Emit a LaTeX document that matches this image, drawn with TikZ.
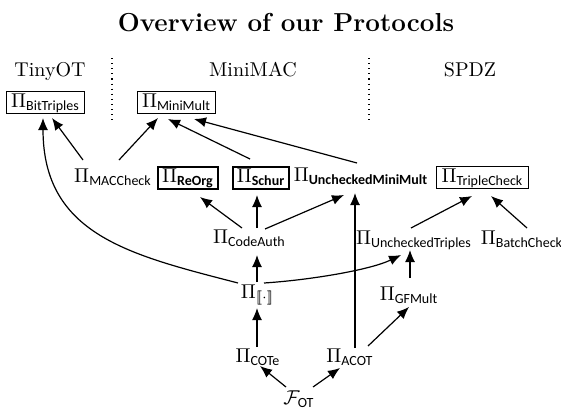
\documentclass[tikz,border=0pt]{standalone}
\usepackage{amsmath}
\usepackage{fontspec}
\setsansfont{Carlito}
\usetikzlibrary{arrows.meta,calc}
\newcommand{\Psub}[1]{$\Pi_{\text{\sffamily #1}}$}
\newcommand{\Pbold}[1]{$\Pi_{\text{\sffamily\bfseries #1}}$}
\begin{document}
\begin{tikzpicture}[x=0.5pt,y=-0.5pt,
  lbl/.style={inner sep=2pt, font=\fontsize{10}{12}\selectfont, anchor=base},
  pbox/.style={draw, line width=0.5pt, inner xsep=2.5pt, inner ysep=1.2pt, text height=7pt, text depth=1.6pt, font=\fontsize{10}{12}\selectfont},
  tbox/.style={pbox, line width=1pt, inner xsep=2pt},
  hdr/.style={font=\fontsize{10}{12}\selectfont, anchor=base},
  arr/.style={-{Latex[length=6pt,width=5pt]}, line width=0.6pt},
  sepline/.style={dotted, line width=0.55pt}]
\useasboundingbox (0,0) rectangle (561,412);
% title and headers
\node[anchor=base, font=\fontsize{13}{15}\selectfont\bfseries] (title) at (286,32) {Overview of our Protocols};
\node[hdr] (tiny) at (50,76) {TinyOT};
\node[hdr] (minimac) at (253,76) {MiniMAC};
\node[hdr] (spdz) at (470,76) {SPDZ};
\coordinate (d1a) at (112,58); \coordinate (d1b) at (112,120);
\coordinate (d2a) at (369,58); \coordinate (d2b) at (369,120);
\draw[sepline] (d1a) -- (d1b);
\draw[sepline] (d2a) -- (d2b);
% boxed nodes
\node[pbox] (bt) at (45.5,102) {\Psub{BitTriples}};
\node[pbox] (mm) at (176.5,102) {\Psub{MiniMult}};
\node[tbox] (reorg) at (188,177.5) {\Pbold{ReOrg}};
\node[tbox] (schur) at (261,177.5) {\Pbold{Schur}};
\node[pbox] (tc) at (482.5,177.5) {\Psub{TripleCheck}};
% plain nodes
\node[lbl] (mac) at (113,182) {\Psub{MACCheck}};
\node[lbl] (umm) at (361,181) {\Pbold{UncheckedMiniMult}};
\node[lbl] (ca) at (249.5,243) {\Psub{CodeAuth}};
\node[lbl] (ut) at (414,244) {\Psub{UncheckedTriples}};
\node[lbl] (bc) at (522,244) {\Psub{BatchCheck}};
\node[lbl] (br) at (257.5,298) {$\Pi_{[\![\cdot]\!]}$};
\node[lbl] (gf) at (409,300) {\Psub{GFMult}};
\node[lbl] (cote) at (258,362) {\Psub{COTe}};
\node[lbl] (acot) at (350,362) {\Psub{ACOT}};
\node[lbl] (fot) at (299,404) {$\mathcal{F}_{\text{\sffamily OT}}$};
% edges
\draw[arr] ($(mac.base)+(-30,-22)$) -- ($(bt)+(6.5,16)$);
\draw[arr] ($(mac.base)+(6,-22)$) -- ($(mm)+(-18.5,16)$);
\draw[arr] ($(schur)+(-11,-18.5)$) -- ($(mm)+(-8.5,17)$);
\draw[arr] ($(umm.base)+(-4,-18)$) -- ($(mm)+(17.5,17)$);
\draw[arr] ($(br.base)+(-19.5,-15)$) .. controls (130,255) and (43,235) .. ($(bt)+(-2.5,16)$);
\draw[arr] ($(ca.base)+(-7.5,-15)$) -- ($(reorg)+(12,19.5)$);
\draw[arr] ($(ca.base)+(7.5,-15)$) -- ($(schur)+(-4,17.5)$);
\draw[arr] ($(ca.base)+(15.5,-14)$) -- ($(umm.base)+(-17,14)$);
\draw[arr] ($(acot.base)+(5,-14)$) -- ($(umm.base)+(-6,12)$);
\draw[arr] ($(br.base)+(-0.5,-16)$) -- ($(ca.base)+(7.5,12)$);
\draw[arr] ($(br.base)+(6.5,-15)$) .. controls (310,280) and (370,270) .. ($(ut.base)+(-13,11)$);
\draw[arr] ($(gf.base)+(1,-22)$) -- ($(ut.base)+(-4,6)$);
\draw[arr] ($(ut.base)+(-3,-16)$) -- ($(tc)+(-10.5,18.5)$);
\draw[arr] ($(bc.base)+(5,-16)$) -- ($(tc)+(8.5,18.5)$);
\draw[arr] ($(cote.base)+(-1,-15)$) -- ($(br.base)+(-0.5,10)$);
\draw[arr] ($(acot.base)+(18,-16)$) -- ($(gf.base)+(0,7)$);
\draw[arr] ($(fot.base)+(-13,-17)$) -- ($(cote.base)+(2,4)$);
\draw[arr] ($(fot.base)+(14,-17)$) -- ($(acot.base)+(-10,6)$);
\end{tikzpicture}
\end{document}
